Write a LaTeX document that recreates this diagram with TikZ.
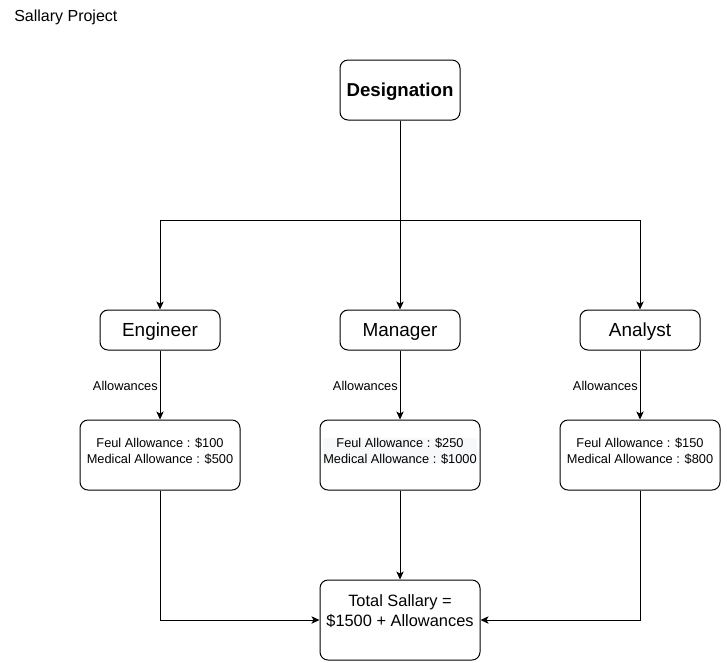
\documentclass[tikz,border=0pt]{standalone}
\usepackage{fontspec}
\setmainfont{Liberation Sans}
\usetikzlibrary{arrows.meta}
\definecolor{hl}{RGB}{247,248,250}
\begin{document}
\begin{tikzpicture}[x=0.75pt,y=-0.75pt,
  box/.style={draw=black,line width=0.75pt,rounded corners=6pt,fill=white,inner sep=0pt},
  rolebox/.style={box,minimum width=90pt,minimum height=30pt,font=\fontsize{14.2}{17}\selectfont},
  allowbox/.style={box,minimum width=120pt,minimum height=52.5pt},
  smalltxt/.style={inner sep=0pt,align=center,font=\fontsize{9.6}{12}\selectfont},
  conn/.style={line width=0.75pt,draw=black,-{Stealth[length=6pt,width=5.5pt,inset=1.5pt]}},
  lbl/.style={inner sep=0pt,font=\fontsize{9.6}{12}\selectfont,fill=white}]
\useasboundingbox (0,0) rectangle (727,662);

\node[anchor=west,inner sep=0pt,font=\fontsize{12}{14}\selectfont] (title) at (14,17) {Sallary Project};

\node[box,minimum width=90pt,minimum height=45pt] (des) at (400,90) {};
\node[inner sep=0pt,font=\fontsize{14}{17}\selectfont\bfseries] (dest) at (400,91.5) {Designation};

\node[rolebox] (eng) at (160,330) {};
\node[rolebox] (man) at (400,330) {};
\node[rolebox] (ana) at (640,330) {};
\node[inner sep=0pt,font=\fontsize{14.2}{17}\selectfont] (engt) at (160,331.5) {Engineer};
\node[inner sep=0pt,font=\fontsize{14.2}{17}\selectfont] (mant) at (400,331.5) {Manager};
\node[inner sep=0pt,font=\fontsize{14.2}{17}\selectfont] (anat) at (640,331.5) {Analyst};

\node[allowbox] (ea) at (160,455) {};
\node[allowbox] (ma) at (400,455) {};
\node[allowbox] (aa) at (640,455) {};
\node[smalltxt] (eat) at (160,451) {Feul Allowance : \$100\\Medical Allowance : \$500};
\node[smalltxt,fill=hl] (mat) at (400,451) {Feul Allowance : \$250\\Medical Allowance : \$1000};
\node[smalltxt] (aat) at (640,451) {Feul Allowance : \$150\\Medical Allowance : \$800};

\node[box,minimum width=120pt,minimum height=60pt] (tot) at (400,620) {};
\node[inner sep=0pt,align=center,font=\fontsize{12.3}{15}\selectfont] (tott) at (400,611.5) {Total Sallary =\\\$1500 + Allowances};

\coordinate (j) at (400,220);
\draw[conn] (des.south) -- (man.north);
\draw[conn] (j) -| (eng.north);
\draw[conn] (j) -| (ana.north);

\draw[conn] (eng.south) -- (ea.north);
\draw[conn] (man.south) -- (ma.north);
\draw[conn] (ana.south) -- (aa.north);

\node[lbl,anchor=east] (l1) at (158,386) {Allowances};
\node[lbl,anchor=east] (l2) at (398,386) {Allowances};
\node[lbl,anchor=east] (l3) at (638,386) {Allowances};

\draw[conn] (ea.south) |- (tot.west);
\draw[conn] (ma.south) -- (tot.north);
\draw[conn] (aa.south) |- (tot.east);
\end{tikzpicture}
\end{document}
